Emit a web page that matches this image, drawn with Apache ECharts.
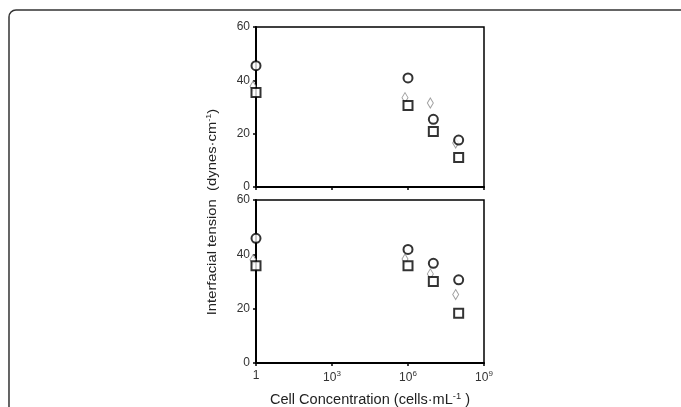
<!DOCTYPE html>
<html>
<head>
<meta charset="utf-8">
<script src="https://cdn.jsdelivr.net/npm/echarts@6/dist/echarts.min.js"></script>
<style>html,body{margin:0;padding:0;background:#fff}#c{width:681px;height:407px}</style>
</head>
<body>
<div id="c"></div>
<script>
// Data
var concentrations = [1, 1e6, 1e7, 1e8];
var xTickLabels = {0: '1', 3: '10{s|3}', 6: '10{s|6}', 9: '10{s|9}'};
var yTicks = [0, 20, 40, 60];

var topCircles  = [45.5, 40.9, 25.4, 17.6];
var topDiamonds = [37.8, 33.5, 31.5, 16.5];
var topSquares  = [35.4, 30.6, 20.8, 11.1];

var botCircles  = [45.9, 41.8, 36.7, 30.6];
var botDiamonds = [38.0, 38.3, 32.8, 25.2];
var botSquares  = [35.8, 35.8, 30.0, 18.3];

function pairs(vals) { return concentrations.map(function (c, i) { return [c, vals[i]]; }); }

var FONT = 'Liberation Sans, Arial, sans-serif';

function xAxisCfg(idx, showLabels) {
  return {
    type: 'log', logBase: 10, gridIndex: idx, min: 1, max: 1e9, interval: 3,
    axisLine: {show: true, lineStyle: {color: '#000', width: 2}},
    axisTick: {show: true, length: 3, lineStyle: {color: '#000', width: 1.5}},
    minorTick: {show: false},
    splitLine: {show: false},
    axisLabel: {
      show: showLabels, margin: 7, color: '#333', fontFamily: FONT, fontSize: 12,
      formatter: function (v) {
        var e = Math.round(Math.log10(v));
        return xTickLabels[e] || '';
      },
      rich: {s: {fontSize: 8, fontFamily: FONT, color: '#333', padding: [0, 0, 7, 0]}}
    }
  };
}
function yAxisCfg(idx) {
  return {
    type: 'value', gridIndex: idx, min: yTicks[0], max: yTicks[yTicks.length - 1], interval: 20,
    axisLine: {show: true, lineStyle: {color: '#000', width: 2}},
    axisTick: {show: true, length: 3, lineStyle: {color: '#000', width: 1.5}},
    splitLine: {show: false},
    axisLabel: {margin: 6, color: '#333', fontFamily: FONT, fontSize: 12}
  };
}
function circ(idx, vals) {
  return {type: 'scatter', xAxisIndex: idx, yAxisIndex: idx, data: pairs(vals), clip: false, z: 4,
    symbol: 'circle', symbolSize: 9,
    itemStyle: {color: '#fff', borderColor: '#000', borderWidth: 2}};
}
function diam(idx, vals) {
  return {type: 'scatter', xAxisIndex: idx, yAxisIndex: idx, data: pairs(vals), clip: false, z: 2,
    symbol: 'diamond', symbolSize: [6, 10], symbolOffset: [-3, 0],
    itemStyle: {color: '#fff', borderColor: '#888', borderWidth: 1}};
}
function sq(idx, vals) {
  return {type: 'scatter', xAxisIndex: idx, yAxisIndex: idx, data: pairs(vals), clip: false, z: 3,
    symbol: 'rect', symbolSize: 9,
    itemStyle: {color: '#fff', borderColor: '#000', borderWidth: 2}};
}

var chart = echarts.init(document.getElementById('c'), null, {renderer: 'canvas'});
chart.setOption({
  animation: false,
  backgroundColor: '#fff',
  grid: [
    {left: 256, width: 228, top: 27, height: 160, show: true, borderColor: '#000', borderWidth: 1.5, backgroundColor: 'transparent'},
    {left: 256, width: 228, top: 200, height: 163, show: true, borderColor: '#000', borderWidth: 1.5, backgroundColor: 'transparent'}
  ],
  xAxis: [xAxisCfg(0, false), xAxisCfg(1, true)],
  yAxis: [yAxisCfg(0), yAxisCfg(1)],
  series: [
    diam(0, topDiamonds), sq(0, topSquares), circ(0, topCircles),
    diam(1, botDiamonds), sq(1, botSquares), circ(1, botCircles)
  ],
  graphic: [
    {type: 'rect', shape: {x: 9, y: 10, width: 720, height: 440, r: 7},
     style: {fill: 'none', stroke: '#333', lineWidth: 1.5}, silent: true, z: 0},
    {type: 'text', x: 212, y: 212, rotation: Math.PI / 2, scaleX: 1.14, z: 10,
     style: {text: 'Interfacial tension  (dynes·cm{s|-1})', fill: '#222', font: '13px ' + FONT,
       align: 'center', verticalAlign: 'middle',
       rich: {s: {fontSize: 8, fontFamily: FONT, fill: '#222', padding: [0, 0, 7, 0]}}}},
    {type: 'text', x: 370, y: 400, scaleX: 1.04, z: 10,
     style: {text: 'Cell Concentration (cells·mL{s|-1} )', fill: '#222', font: '14px ' + FONT,
       align: 'center', verticalAlign: 'middle',
       rich: {s: {fontSize: 9, fontFamily: FONT, fill: '#222', padding: [0, 0, 7, 0]}}}}
  ]
});
</script>
</body>
</html>
